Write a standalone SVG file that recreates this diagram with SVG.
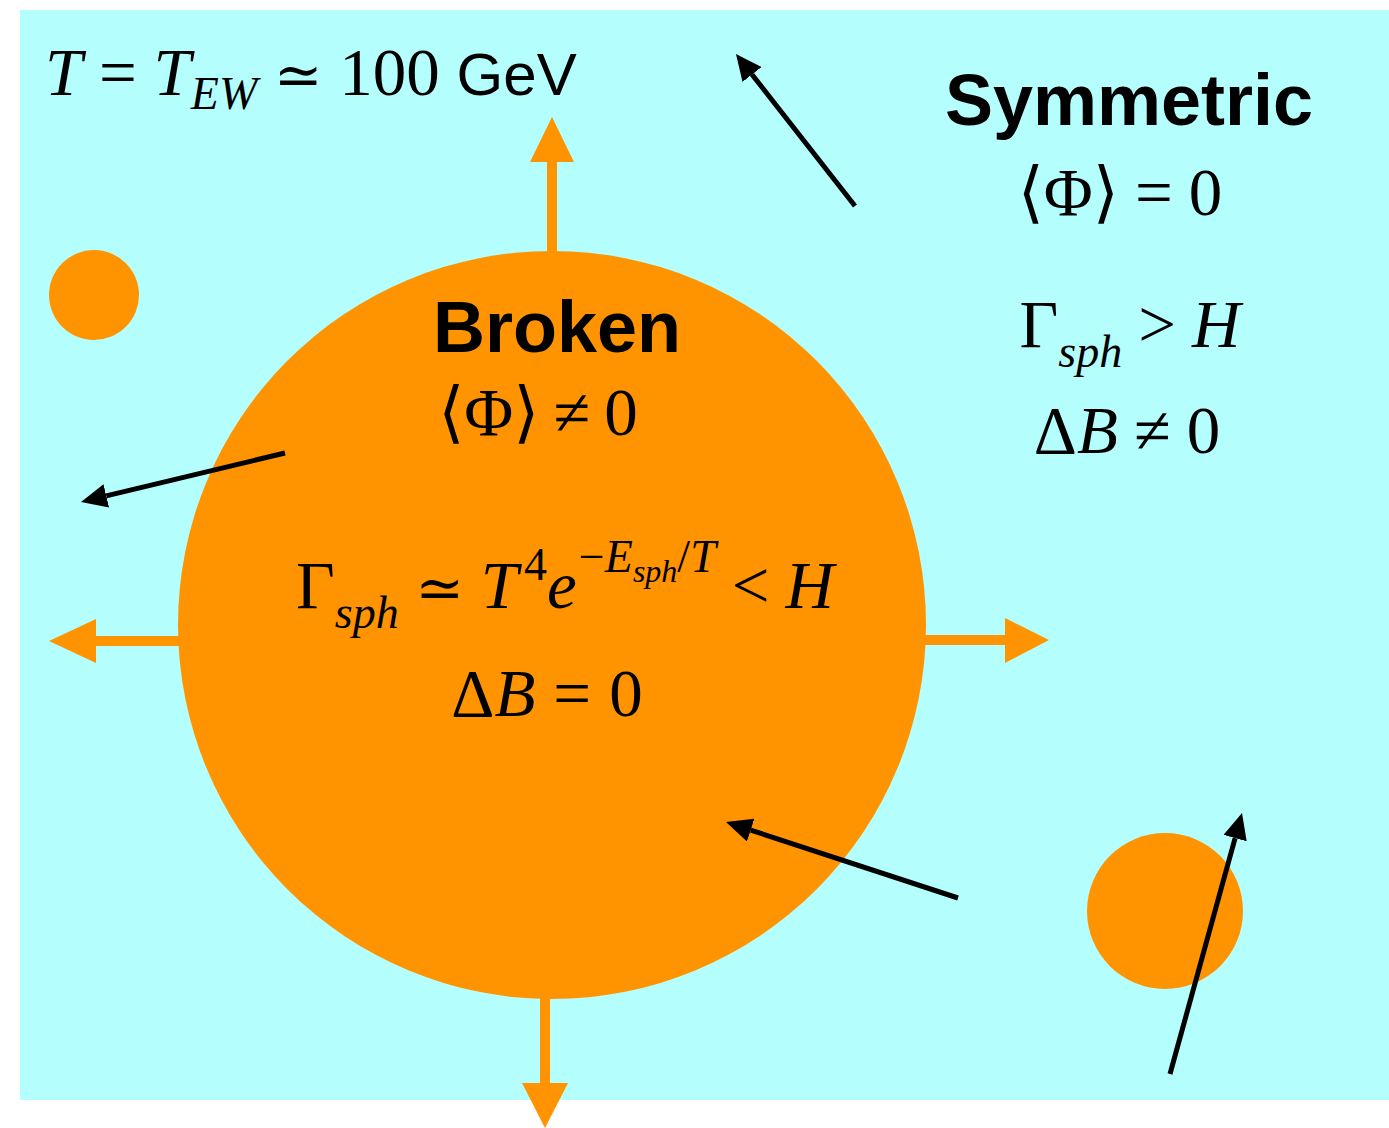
<svg xmlns="http://www.w3.org/2000/svg" width="1389" height="1128" viewBox="0 0 1389 1128">
<style>
.m{font-family:"Liberation Serif","DejaVu Serif",serif;font-size:67px;fill:#000}
.i{font-style:italic}
.rel{font-size:58px}
.b{font-family:"Liberation Sans",Arial,sans-serif;font-weight:bold;font-size:72px;fill:#000}
.bub{fill:#FF9400}
.oa{fill:#FF9400}
.ba{stroke:#000;stroke-width:5;fill:none;marker-end:url(#ah)}
</style>
<defs>
<marker id="ah" viewBox="0 0 26 24" refX="0" refY="12" markerUnits="userSpaceOnUse" markerWidth="26" markerHeight="24" orient="auto">
<path d="M0,0 L26,12 L0,24 z" fill="#000"/>
</marker>
</defs>
<rect x="0" y="0" width="1389" height="1128" fill="#fff"/>
<rect id="background" x="20" y="10" width="1369" height="1090" fill="#B4FFFD"/>

<g id="bubble-small-1"><circle class="bub" cx="94" cy="295" r="45"/></g>
<g id="bubble-small-2"><circle class="bub" cx="1165" cy="911" r="78"/></g>

<g id="broken">
<circle class="bub" cx="552" cy="625" r="374"/>
<text class="b" x="557" y="352" text-anchor="middle">Broken</text>
<text class="m" x="538" y="435" text-anchor="middle">⟨Φ⟩<tspan dx="14">≠</tspan><tspan dx="14">0</tspan></text>
<text class="m" x="565" y="608" text-anchor="middle">Γ<tspan class="i" font-size="46" dy="20">sph</tspan><tspan dy="-20"> </tspan><tspan class="rel">≃</tspan> <tspan class="i">T</tspan><tspan font-size="46" dx="6" dy="-28">4</tspan><tspan class="i" dy="28">e</tspan><tspan font-size="46" dx="2" dy="-36">−</tspan><tspan class="i" font-size="46">E</tspan><tspan class="i" font-size="32" dy="10">sph</tspan><tspan font-size="46" dy="-10">/</tspan><tspan class="i" font-size="46">T</tspan><tspan dy="36" dx="16">&lt;</tspan><tspan class="i" dx="16">H</tspan></text>
<text class="m" x="547" y="716" text-anchor="middle">Δ<tspan class="i">B</tspan><tspan dx="18">=</tspan><tspan dx="18">0</tspan></text>
</g>

<g id="symmetric">
<text class="b" x="1129" y="125" text-anchor="middle">Symmetric</text>
<text class="m" x="1120" y="215" text-anchor="middle">⟨Φ⟩<tspan dx="16">=</tspan><tspan dx="16">0</tspan></text>
<text class="m" x="1130" y="347" text-anchor="middle">Γ<tspan class="i" font-size="46" dy="20">sph</tspan><tspan dy="-20" dx="16">&gt;</tspan><tspan class="i" dx="16">H</tspan></text>
<text class="m" x="1127" y="453" text-anchor="middle">Δ<tspan class="i">B</tspan><tspan dx="16">≠</tspan><tspan dx="16">0</tspan></text>
</g>

<g id="temperature">
<text class="m" x="45" y="95"><tspan class="i">T</tspan> = <tspan class="i">T</tspan><tspan class="i" font-size="46" dy="14">EW</tspan><tspan dy="-14"> </tspan><tspan class="rel">≃</tspan> 100 <tspan font-family="Liberation Sans,Arial,sans-serif" font-size="60">GeV</tspan></text>
</g>

<g id="connectors">
<g id="expansion-arrows">
<rect class="oa" x="547" y="158" width="10" height="96"/>
<polygon class="oa" points="552,117 530,162 574,162"/>
<rect class="oa" x="920" y="635" width="88" height="10"/>
<polygon class="oa" points="1049,640 1005,618 1005,663"/>
<rect class="oa" x="92" y="636" width="94" height="10"/>
<polygon class="oa" points="49,641 96,619 96,663"/>
<rect class="oa" x="540" y="990" width="10" height="96"/>
<polygon class="oa" points="545,1128 522,1083 568,1083"/>
</g>
<g id="motion-arrows">
<line class="ba" x1="855" y1="206" x2="752" y2="74.5"/>
<line class="ba" x1="285" y1="453" x2="106.3" y2="495.9"/>
<line class="ba" x1="958" y1="898" x2="750.7" y2="830.1"/>
<line class="ba" x1="1170" y1="1074" x2="1235.1" y2="838.1"/>
</g>
</g>
</svg>
